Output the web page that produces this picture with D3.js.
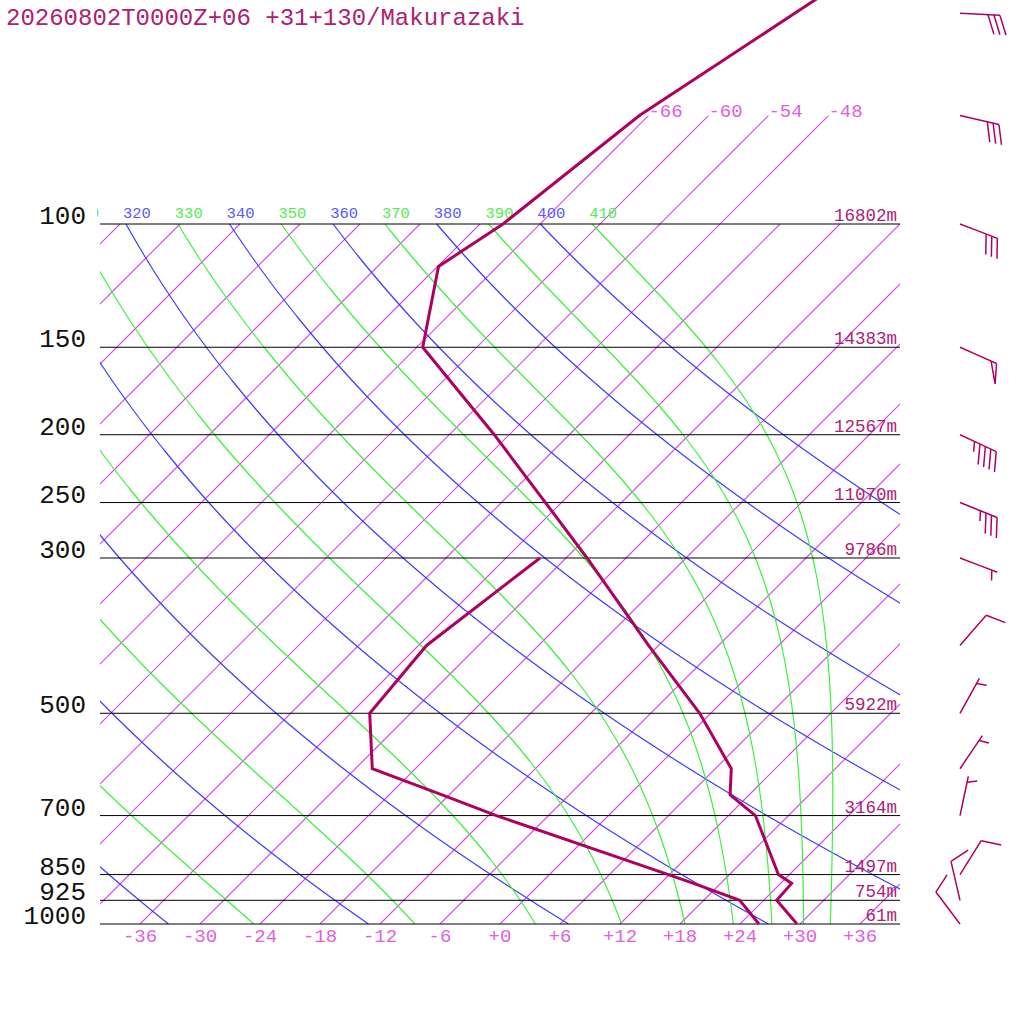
<!DOCTYPE html>
<html><head><meta charset="utf-8">
<script src="https://cdn.jsdelivr.net/npm/d3@7"></script>
<style>body{margin:0;background:#fff;overflow:hidden}</style>
</head><body>
<svg id="c" width="1024" height="1024" xmlns="http://www.w3.org/2000/svg"></svg>
<script>
// ---------------- data ----------------
const title = "20260802T0000Z+06 +31+130/Makurazaki";
const pressureLevels = [1000, 925, 850, 700, 500, 300, 250, 200, 150, 100];
const pressureLabels = ["1000", "925", "850", "700", "500", "300", "250", "200", "150", "100"];
const heightLabels = ["61m", "754m", "1497m", "3164m", "5922m", "9786m", "11070m", "12567m", "14383m", "16802m"];

const profileP = [1000, 925, 875, 850, 700, 654, 600, 500, 400, 300, 250, 200, 150, 115, 100, 70, 50, 30];
const tempC    = [29.7, 25.3, 25.1, 22.9, 14.7, 10.1, 7.6, -1.1, -13.0, -27.9, -37.6, -49.5, -65.4, -71.9, -69.7, -66.9, -61.6, -53.5];
const dewP     = [1000, 925, 875, 850, 700, 654, 600, 500, 400, 300];
const dewC     = [25.9, 21.6, 15.3, 11.9, -11.2, -18.7, -28.3, -34.1, -35.2, -32.6];

const windP   = [1000, 925, 850, 700, 600, 500, 400, 300, 250, 200, 150, 100, 70, 50];
const windDir = [323, 347, 32, 12, 34, 29, 41, 111, 112, 115, 114, 111, 103, 93];
const windKt  = [10, 10, 10, 5, 5, 5, 10, 5, 35, 45, 50, 30, 30, 30];

const tempTicks = [-36, -30, -24, -18, -12, -6, 0, 6, 12, 18, 24, 30, 36];
const isothermValues = d3.range(-120, 43, 6);
const isothermHigh = [-66, -60, -54, -48];   // drawn up to 70 hPa and labelled
const dryThetas = [200, 220, 240, 260, 280, 300, 320, 340, 360, 380, 400];
const moistThetas = [230, 250, 270, 290, 310, 330, 350, 370, 390, 410];

// ---------------- scales ----------------
const X0 = 100, X1 = 900, YB = 924, YT = 224;
const yScale = d3.scaleLog().domain([1000, 100]).range([YB, YT]);
const tScale = d3.scaleLinear().domain([-40, 40]).range([X0, X1]);
const xOf = (T, p) => tScale(T) + (YB - yScale(p));

const svg = d3.select("#c");
const font = "'Liberation Mono', 'DejaVu Sans Mono', monospace";

const defs = svg.append("defs");
defs.append("clipPath").attr("id", "plot")
  .append("rect").attr("x", X0).attr("y", 0).attr("width", X1 - X0).attr("height", YB);
defs.append("clipPath").attr("id", "lab")
  .append("rect").attr("x", 97).attr("y", 0).attr("width", 900).attr("height", 1024);

const line = d3.line().x(d => d[0]).y(d => d[1]);
const g = svg.append("g").attr("clip-path", "url(#plot)").attr("fill", "none");

// isotherms (sampled along pressure)
isothermValues.forEach(T => {
  const pTop = isothermHigh.includes(T) ? 70 : 100;
  const pts = d3.range(0, 21).map(i => {
    const p = Math.exp(Math.log(1000) + (Math.log(pTop) - Math.log(1000)) * i / 20);
    return [xOf(T, p), yScale(p)];
  });
  g.append("path").attr("d", line(pts)).attr("fill", "none").attr("stroke", "#d64ce6").attr("stroke-width", 1.1);
});

// dry adiabats
const kappa = 0.2857;
const nS = 200;
const lnTop = Math.log(100), lnBot = Math.log(1000);
dryThetas.forEach(th => {
  const pts = [];
  for (let i = 0; i <= nS; i++) {
    const p = Math.exp(lnTop + (lnBot - lnTop) * i / nS);
    const T = th * Math.pow(p / 1000, kappa) - 273.15;
    pts.push([xOf(T, p), yScale(p)]);
  }
  g.append("path").attr("d", line(pts)).attr("stroke", "#3c3cff").attr("stroke-width", 1.2).attr("fill", "none");
});

// moist (pseudo) adiabats
const Rd = 287.04, Cp = 1005.7, Lv = 2.501e6, eps = 0.622;
function esat(Tc) { return 6.112 * Math.exp(17.67 * Tc / (Tc + 243.5)); }
function dTdlnp(T, p) {
  const es = esat(T - 273.15);
  const rs = eps * es / (p - es);
  return (Rd * T + Lv * rs) / (Cp + Lv * Lv * rs * eps / (Rd * T * T));
}
moistThetas.forEach(th => {
  let T = th * Math.pow(0.1, kappa);
  const h = (lnBot - lnTop) / nS;
  const pts = [];
  for (let i = 0; i <= nS; i++) {
    const lp = lnTop + h * i;
    const p = Math.exp(lp);
    pts.push([xOf(T - 273.15, p), yScale(p)]);
    if (i === nS) break;
    const k1 = dTdlnp(T, p);
    const k2 = dTdlnp(T + h * k1 / 2, Math.exp(lp + h / 2));
    const k3 = dTdlnp(T + h * k2 / 2, Math.exp(lp + h / 2));
    const k4 = dTdlnp(T + h * k3, Math.exp(lp + h));
    T += h * (k1 + 2 * k2 + 2 * k3 + k4) / 6;
  }
  g.append("path").attr("d", line(pts)).attr("stroke", "#3cf03c").attr("stroke-width", 1.2).attr("fill", "none");
});

// pressure lines
pressureLevels.forEach(p => {
  svg.append("line").attr("x1", X0).attr("x2", X1).attr("y1", yScale(p)).attr("y2", yScale(p))
    .attr("stroke", "#000").attr("stroke-width", 1);
});

// theta labels at 100 hPa
const labG = svg.append("g").attr("clip-path", "url(#lab)");
const thLabels = d3.range(310, 411, 10);
thLabels.forEach(th => {
  const T = th * Math.pow(0.1, kappa) - 273.15;
  const isMoist = (th / 10) % 2 === 1;
  labG.append("text").attr("x", xOf(T, 100) - 3).attr("y", 218)
    .attr("font-family", font).attr("font-size", 15.5)
    .attr("fill", isMoist ? "#50ee50" : "#5858ff").text(th);
});

// isotherm top labels
isothermHigh.forEach(T => {
  svg.append("text").attr("x", xOf(T, 70)).attr("y", yScale(70) + 1)
    .attr("font-family", font).attr("font-size", 19).attr("fill", "#e060e0")
    .text("-" + Math.abs(T));
});

// bottom temperature ticks
tempTicks.forEach(T => {
  svg.append("text").attr("x", tScale(T)).attr("y", 942).attr("text-anchor", "middle")
    .attr("font-family", font).attr("font-size", 19).attr("fill", "#e060e0")
    .text(T < 0 ? "-" + Math.abs(T) : "+" + T);
});

// pressure labels
pressureLevels.forEach((p, i) => {
  svg.append("text").attr("x", 86).attr("y", yScale(p)).attr("text-anchor", "end")
    .attr("font-family", font).attr("font-size", 26).attr("fill", "#111").text(pressureLabels[i]);
});

// height labels
pressureLevels.forEach((p, i) => {
  svg.append("text").attr("x", 897).attr("y", yScale(p) - 3).attr("text-anchor", "end")
    .attr("font-family", font).attr("font-size", 17.5).attr("fill", "#b02070").text(heightLabels[i]);
});

// title
svg.append("text").attr("x", 6).attr("y", 25).attr("font-family", font).attr("font-size", 24)
  .attr("fill", "#b02070").text(title);

// temperature & dewpoint
const tPts = profileP.map((p, i) => [xOf(tempC[i], p), yScale(p)]);
const dPts = dewP.map((p, i) => [xOf(dewC[i], p), yScale(p)]);
[tPts, dPts].forEach(pts => {
  svg.append("path").attr("d", line(pts)).attr("stroke", "#b0005f").attr("stroke-width", 3)
    .attr("fill", "none").attr("stroke-linejoin", "miter");
});

// wind barbs
const bx = 960, staffLen = 40, fullLen = 20.5, step = 6, ang = 20 * Math.PI / 180;
const barbG = svg.append("g").attr("stroke", "#b0005f").attr("stroke-width", 1.5).attr("fill", "none");
windP.forEach((p, i) => {
  const by = yScale(p);
  const d = windDir[i] * Math.PI / 180;
  const dx = Math.sin(d), dy = -Math.cos(d);
  const px = -dy, py = dx;
  const bvx = px * Math.cos(ang) + dx * Math.sin(ang);
  const bvy = py * Math.cos(ang) + dy * Math.sin(ang);
  const tx = bx + dx * staffLen, ty = by + dy * staffLen;
  barbG.append("path").attr("d", `M${bx},${by}L${(bx + tx) / 2},${(by + ty) / 2}L${tx},${ty}`);
  let spd = Math.round(windKt[i] / 5) * 5;
  let pos = 0;
  const pennants = Math.floor(spd / 50); spd -= pennants * 50;
  const fulls = Math.floor(spd / 10); spd -= fulls * 10;
  const halves = spd >= 5 ? 1 : 0;
  for (let k = 0; k < pennants; k++) {
    const ax = tx - dx * pos, ay = ty - dy * pos;
    const cx = tx - dx * (pos + step), cy = ty - dy * (pos + step);
    barbG.append("path").attr("d", `M${ax},${ay}L${ax + bvx * fullLen},${ay + bvy * fullLen}L${cx},${cy}`);
    pos += step;
  }
  for (let k = 0; k < fulls; k++) {
    const ax = tx - dx * pos, ay = ty - dy * pos;
    barbG.append("path").attr("d", `M${ax},${ay}L${ax + bvx * fullLen},${ay + bvy * fullLen}`);
    pos += step;
  }
  if (halves) {
    if (pennants + fulls === 0) pos = step;
    const ax = tx - dx * pos, ay = ty - dy * pos;
    barbG.append("path").attr("d", `M${ax},${ay}L${ax + bvx * fullLen / 2},${ay + bvy * fullLen / 2}`);
  }
});
</script>
</body></html>
